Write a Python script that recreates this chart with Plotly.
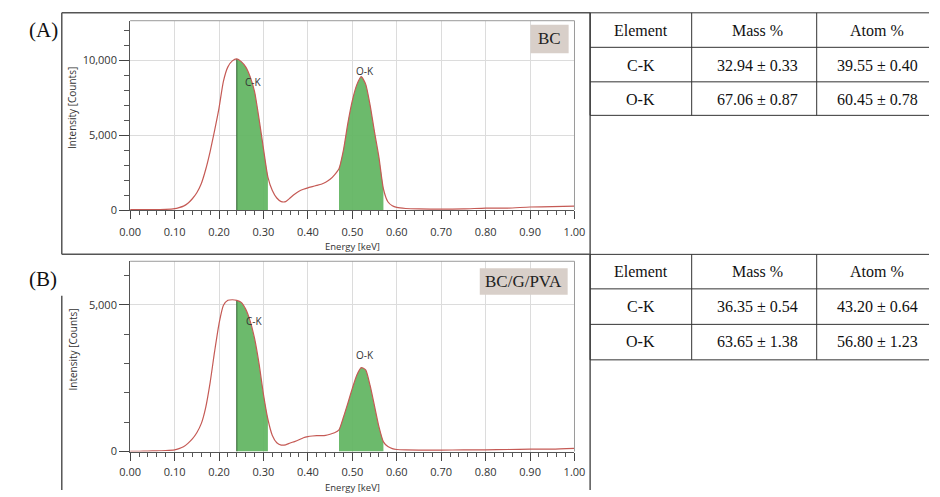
import numpy as np
import plotly.graph_objects as go

W, H = 940, 497

# ---------------- data ----------------
energy_a = [0.00, 0.02, 0.04, 0.06, 0.08, 0.10, 0.11, 0.12, 0.13, 0.14, 0.15, 0.16, 0.17, 0.18, 0.19,
            0.20, 0.21, 0.22, 0.23, 0.24, 0.25, 0.26, 0.27, 0.28, 0.29, 0.30, 0.31, 0.32, 0.33, 0.34,
            0.35, 0.36, 0.37, 0.38, 0.39, 0.40, 0.41, 0.42, 0.43, 0.44, 0.45, 0.46, 0.47, 0.48, 0.49,
            0.50, 0.51, 0.52, 0.53, 0.54, 0.55, 0.56, 0.57, 0.58, 0.59, 0.60, 0.62, 0.65, 0.70, 0.75,
            0.80, 0.85, 0.90, 0.95, 1.00]
counts_a = [20, 20, 20, 25, 40, 90, 160, 260, 450, 750, 1150, 1750, 2700, 3900, 5300,
            6800, 8600, 9550, 9950, 10080, 9900, 9550, 8900, 7900, 6100, 4100, 2200, 1300, 800, 560,
            560, 800, 1050, 1250, 1380, 1480, 1560, 1640, 1720, 1850, 2050, 2350, 2750, 4000, 5800,
            7300, 8350, 8900, 8400, 7000, 5200, 3500, 1400, 550, 280, 170, 100, 70, 60, 70,
            130, 130, 200, 220, 260]

energy_b = list(energy_a)
counts_b = [10, 10, 15, 25, 35, 60, 100, 160, 280, 430, 640, 950, 1500, 2350, 3400,
            4350, 4980, 5150, 5170, 5150, 5080, 4850, 4450, 3850, 3000, 1950, 1100, 550, 300, 220,
            230, 290, 340, 400, 470, 510, 530, 540, 540, 550, 590, 640, 740, 1170, 1650,
            2150, 2600, 2860, 2780, 2250, 1550, 840, 330, 170, 100, 70, 55, 50, 50, 55,
            60, 70, 80, 85, 110]

peak_names = ["C-K", "O-K"]
peak_windows = [(0.24, 0.31), (0.47, 0.57)]
label_pos_a = [(0.277, 8550), (0.528, 9250)]
label_pos_b = [(0.279, 4430), (0.528, 3280)]

sample_names = ["BC", "BC/G/PVA"]
panel_letters = ["(A)", "(B)"]

table_header = ["Element", "Mass %", "Atom %"]
table_elements = ["C-K", "O-K"]
mass_a = ["32.94 ± 0.33", "67.06 ± 0.87"]
atom_a = ["39.55 ± 0.40", "60.45 ± 0.78"]
mass_b = ["36.35 ± 0.54", "63.65 ± 1.38"]
atom_b = ["43.20 ± 0.64", "56.80 ± 1.23"]

# ---------------- helpers (page pixel -> paper) ----------------
def px(x):
    return x / W

def py(y):
    return 1 - y / H

LINE_COLOR = "#c55a55"
FILL_COLOR = "rgba(96,180,96,0.92)"
TICK_FONT = dict(family="Open Sans, Noto Sans, sans-serif", size=11, color="#333333")

fig = go.Figure()

panels = [
    dict(E=energy_a, C=counts_a, xa="x", ya="y", labels=label_pos_a),
    dict(E=energy_b, C=counts_b, xa="x2", ya="y2", labels=label_pos_b),
]

for p in panels:
    E = np.array(p["E"])
    C = np.array(p["C"])
    for (lo, hi) in peak_windows:
        m = (E >= lo - 1e-9) & (E <= hi + 1e-9)
        fig.add_trace(go.Scatter(x=E[m], y=C[m], mode="lines", fill="tozeroy",
                                 fillcolor=FILL_COLOR, line=dict(width=0, shape="spline", smoothing=0.6),
                                 xaxis=p["xa"], yaxis=p["ya"], hoverinfo="skip", showlegend=False))
    lo = peak_windows[0][0]
    v = float(np.interp(lo, E, C))
    fig.add_trace(go.Scatter(x=[lo, lo], y=[0, v], mode="lines",
                             line=dict(color="#2f5f2f", width=1),
                             xaxis=p["xa"], yaxis=p["ya"], hoverinfo="skip", showlegend=False))
    fig.add_trace(go.Scatter(x=E, y=C, mode="lines",
                             line=dict(color=LINE_COLOR, width=1.2, shape="spline", smoothing=0.6),
                             xaxis=p["xa"], yaxis=p["ya"], showlegend=False))
    for name, (lx, ly) in zip(peak_names, p["labels"]):
        fig.add_annotation(x=lx, y=ly, xref=p["xa"], yref=p["ya"], text=name, showarrow=False,
                           xanchor="center", yanchor="middle",
                           font=dict(family="Open Sans, sans-serif", size=10, color="#333333"))

xdom = [px(122), px(577)]
ydom_a = [py(213), py(21)]
ydom_b = [py(458), py(265)]

xaxis_common = dict(
    range=[0, 1.0], dtick=0.1, tick0=0, tickformat=".2f", showgrid=True, gridcolor="#dcdcdc",
    gridwidth=1, showline=True, linecolor="#555555", linewidth=1, ticks="outside", ticklen=8,
    tickcolor="#444444", tickfont=TICK_FONT, zeroline=False,
    minor=dict(dtick=0.02, ticklen=4, ticks="outside", tickcolor="#555555", showgrid=False),
)
yaxis_common = dict(
    dtick=5000, tick0=0, tickformat=",d", showgrid=True, gridcolor="#dcdcdc", gridwidth=1,
    showline=True, linecolor="#555555", linewidth=1, ticks="outside", ticklen=10,
    tickcolor="#444444", tickfont=TICK_FONT, zeroline=False,
    minor=dict(dtick=1000, ticklen=5, ticks="outside", tickcolor="#555555", showgrid=False),
)

fig.update_layout(
    width=W, height=H, margin=dict(l=0, r=0, t=0, b=0), autosize=False,
    paper_bgcolor="white", plot_bgcolor="white",
    xaxis=dict(domain=xdom, anchor="y", ticklabelstandoff=4, **xaxis_common),
    yaxis=dict(domain=ydom_a, anchor="x", range=[0, 12630], **yaxis_common),
    xaxis2=dict(domain=xdom, anchor="y2", ticklabelstandoff=2, **xaxis_common),
    yaxis2=dict(domain=ydom_b, anchor="x2", range=[0, 6480], **yaxis_common),
)

shapes = []

def hline(y, x0, x1, color="#555555", w=1.5):
    shapes.append(dict(type="line", xref="paper", yref="paper", x0=px(x0), x1=px(x1),
                       y0=py(y), y1=py(y), line=dict(color=color, width=w)))

def vline(x, y0, y1, color="#555555", w=1.5):
    shapes.append(dict(type="line", xref="paper", yref="paper", x0=px(x), x1=px(x),
                       y0=py(y0), y1=py(y1), line=dict(color=color, width=w)))

for xa, ya in [("x", "y"), ("x2", "y2")]:
    shapes.append(dict(type="line", xref=xa + " domain", yref=ya + " domain", x0=0, x1=1, y0=1, y1=1,
                       line=dict(color="#9a9a9a", width=1)))
    shapes.append(dict(type="line", xref=xa + " domain", yref=ya + " domain", x0=1, x1=1, y0=0, y1=1,
                       line=dict(color="#9a9a9a", width=1)))

# outer panel frames
hline(13, 52, 593)
hline(258, 52, 593)
vline(52, 13, 258)
vline(593, 13, 497)
vline(52, 300, 497)

# table grids
col_x = [593, 697, 825, 940]
col_c = [645, 764, 887]
for top, rows in [(13, [48, 83, 117]), (258, [293, 329, 365])]:
    ys = [top] + rows
    for y in ys:
        hline(y, 593, 940, color="#333333", w=1)
    for x in col_x[:3]:
        vline(x, ys[0], ys[-1], color="#333333", w=1)

fig.update_layout(shapes=shapes)

SERIF = "Liberation Serif, Times New Roman, serif"

def add_text(x, y, text, font, **kw):
    fig.add_annotation(x=px(x), y=py(y), xref="paper", yref="paper", text=text, showarrow=False,
                       xanchor="center", yanchor="middle", font=font, **kw)

def table_text(top, mass, atom):
    rows = [table_header] + [[e, m, a] for e, m, a in zip(table_elements, mass, atom)]
    centers = [top + 17.5, top + 53, top + 88]
    for r, yc in zip(rows, centers):
        for t, xc in zip(r, col_c):
            add_text(xc, yc, t, dict(family=SERIF, size=16, color="#111111"))

table_text(13, mass_a, atom_a)
table_text(258, mass_b, atom_b)

for letter, yc in zip(panel_letters, [30, 283]):
    add_text(33, yc, letter, dict(family=SERIF, size=21, color="#111111"))

for name, (x0, x1, y0, y1) in zip(sample_names, [(532, 571, 25, 54), (480, 570, 272, 299)]):
    fig.add_shape(type="rect", xref="paper", yref="paper", x0=px(x0), x1=px(x1), y0=py(y1), y1=py(y0),
                  fillcolor="#d8cfc9", line=dict(width=0))
    add_text((x0 + x1) / 2, (y0 + y1) / 2, name, dict(family=SERIF, size=17, color="#222222"))

for yc in [110, 355]:
    add_text(63, yc, "Intensity [Counts]", dict(family="Open Sans, sans-serif", size=10, color="#333333"),
             textangle=-90)
for yc in [250, 494]:
    add_text(350, yc, "Energy [keV]", dict(family="Open Sans, sans-serif", size=9.5, color="#333333"))

fig.write_html("out.html")
